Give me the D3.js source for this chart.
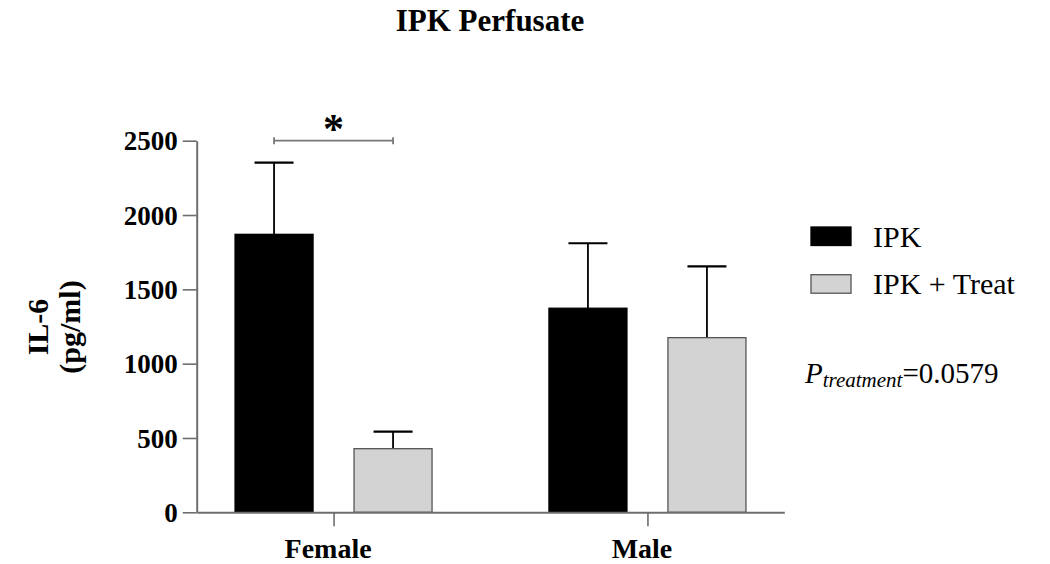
<!DOCTYPE html>
<html>
<head>
<meta charset="utf-8">
<script src="https://cdn.jsdelivr.net/npm/d3@7"></script>
<style>
  body { margin: 0; background: #fff; }
  svg text { font-family: "Liberation Serif", "Times New Roman", serif; }
</style>
</head>
<body>
<svg id="chart" width="1050" height="564"></svg>
<script>
// data
var categories = ["Female", "Male"];
var seriesNames = ["IPK", "IPK + Treat"];
var ipkMeans = [1870, 1373];
var ipkSem = [483, 437];
var treatMeans = [428, 1175];
var treatSem = [115, 480];
var yTicks = [0, 500, 1000, 1500, 2000, 2500];
var seriesColors = ["#000000", "#d3d3d3"];

var axisColor = "#6e6e6e";
var svg = d3.select("#chart");

// plot frame (don't call it "top", that's window.top)
var plotLeft = 196.7, plotRight = 784.3, plotTop = 140.7, plotBottom = 512.3;

var y = d3.scaleLinear().domain([0, 2500]).range([plotBottom, plotTop]);
var x0 = d3.scalePoint().domain(categories).range([plotLeft, plotRight]).padding(0.436);
var x1 = d3.scaleBand().domain(seriesNames).range([-98.5, 98.5]).paddingInner(0.3445);

// title
svg.append("text")
  .attr("x", 490).attr("y", 31)
  .attr("text-anchor", "middle")
  .attr("font-size", 31).attr("font-weight", "bold")
  .text("IPK Perfusate");

// bars + error bars
var rows = [];
categories.forEach(function(c, i) {
  rows.push({cat: c, series: seriesNames[0], mean: ipkMeans[i], sem: ipkSem[i]});
  rows.push({cat: c, series: seriesNames[1], mean: treatMeans[i], sem: treatSem[i]});
});

var g = svg.append("g");

// error bars drawn first so bar covers stem bottom
var err = g.selectAll("g.err").data(rows).enter().append("g").attr("class", "err");
err.append("line")
  .attr("x1", function(d) { return x0(d.cat) + x1(d.series) + x1.bandwidth() / 2; })
  .attr("x2", function(d) { return x0(d.cat) + x1(d.series) + x1.bandwidth() / 2; })
  .attr("y1", function(d) { return y(d.mean); })
  .attr("y2", function(d) { return y(d.mean + d.sem); })
  .attr("stroke", "#000").attr("stroke-width", 1.8);
err.append("line")
  .attr("x1", function(d) { return x0(d.cat) + x1(d.series) + x1.bandwidth() / 4; })
  .attr("x2", function(d) { return x0(d.cat) + x1(d.series) + x1.bandwidth() * 3 / 4; })
  .attr("y1", function(d) { return y(d.mean + d.sem); })
  .attr("y2", function(d) { return y(d.mean + d.sem); })
  .attr("stroke", "#000").attr("stroke-width", 2.2);

g.selectAll("rect.bar").data(rows).enter().append("rect")
  .attr("class", "bar")
  .attr("x", function(d) { return x0(d.cat) + x1(d.series); })
  .attr("width", x1.bandwidth())
  .attr("y", function(d) { return y(d.mean); })
  .attr("height", function(d) { return y(0) - y(d.mean); })
  .attr("fill", function(d) { return seriesColors[seriesNames.indexOf(d.series)]; })
  .attr("stroke", function(d) { return d.series === seriesNames[0] ? "#000" : "#555"; })
  .attr("stroke-width", 1.3);

// y axis
var yAxis = d3.axisLeft(y).tickValues(yTicks).tickFormat(d3.format("d"))
  .tickSize(14).tickPadding(5).tickSizeOuter(0);
var yg = svg.append("g").attr("transform", "translate(" + plotLeft + ",0)").call(yAxis);
yg.select(".domain").attr("stroke", axisColor).attr("stroke-width", 2);
yg.selectAll(".tick line").attr("stroke", axisColor).attr("stroke-width", 1.6);
yg.selectAll(".tick text")
  .attr("font-family", "Liberation Serif, Times New Roman, serif")
  .attr("font-size", 27).attr("font-weight", "bold").attr("fill", "#000")
  .attr("dy", "0.34em");

// x axis
var xAxis = d3.axisBottom(x0).tickSize(14).tickPadding(12).tickSizeOuter(0);
var xg = svg.append("g").attr("transform", "translate(0," + plotBottom + ")").call(xAxis);
xg.select(".domain").attr("stroke", axisColor).attr("stroke-width", 2);
xg.selectAll(".tick line").attr("stroke", axisColor).attr("stroke-width", 1.6);
xg.selectAll(".tick text")
  .attr("font-family", "Liberation Serif, Times New Roman, serif")
  .attr("font-size", 28).attr("font-weight", "bold").attr("fill", "#000")
  .attr("dx", -6);

// y label
var yl = svg.append("text")
  .attr("transform", "translate(48,327) rotate(-90)")
  .attr("text-anchor", "middle")
  .attr("font-size", 30).attr("font-weight", "bold");
yl.append("tspan").attr("x", 0).attr("y", 0).text("IL-6");
yl.append("tspan").attr("x", 0).attr("y", 32).text("(pg/ml)");

// significance bracket Female IPK vs Treat
var bx1 = x0("Female") + x1(seriesNames[0]) + x1.bandwidth() / 2;
var bx2 = x0("Female") + x1(seriesNames[1]) + x1.bandwidth() / 2;
var by = y(2500);
var br = svg.append("g").attr("stroke", "#777").attr("stroke-width", 1.8);
br.append("line").attr("x1", bx1).attr("x2", bx2).attr("y1", by).attr("y2", by);
br.append("line").attr("x1", bx1).attr("x2", bx1).attr("y1", by - 3.5).attr("y2", by + 3.5);
br.append("line").attr("x1", bx2).attr("x2", bx2).attr("y1", by - 3.5).attr("y2", by + 3.5);
svg.append("text")
  .attr("x", (bx1 + bx2) / 2).attr("y", by + 2)
  .attr("text-anchor", "middle")
  .attr("font-size", 42).attr("font-weight", "bold")
  .text("*");

// legend
var legend = svg.append("g").attr("transform", "translate(811,227)");
seriesNames.forEach(function(s, i) {
  var row = legend.append("g").attr("transform", "translate(0," + (i * 47.7) + ")");
  row.append("rect")
    .attr("width", 40).attr("height", 18.5)
    .attr("fill", seriesColors[i])
    .attr("stroke", i === 0 ? "#000" : "#555").attr("stroke-width", 1.3);
  row.append("text")
    .attr("x", 62).attr("y", 19.5)
    .attr("font-size", 30)
    .text(s);
});

// p-value annotation
var pt = svg.append("text").attr("x", 805).attr("y", 382.7).attr("font-size", 29);
pt.append("tspan").attr("font-style", "italic").text("P");
pt.append("tspan").attr("font-style", "italic").attr("font-size", 21).attr("dy", 4).text("treatment");
pt.append("tspan").attr("dy", -4).text("=0.0579");
</script>
</body>
</html>
